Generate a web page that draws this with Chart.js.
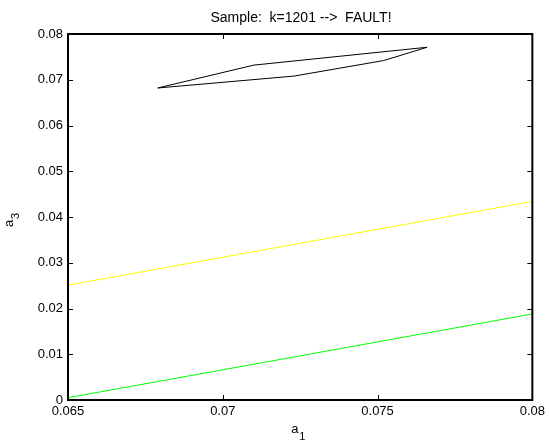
<!DOCTYPE html>
<html><head><meta charset="utf-8">
<script src="https://cdn.jsdelivr.net/npm/chart.js@4/dist/chart.umd.min.js"></script>
<style>html,body{margin:0;padding:0;background:#fff}#wrap{width:549px;height:441px;position:relative}</style>
</head><body><div id="wrap"><canvas id="c"></canvas></div>
<script>
const titleText = 'Sample:  k=1201 -->  FAULT!';
const xTicks = [0.065, 0.07, 0.075, 0.08];
const yTicks = [0, 0.01, 0.02, 0.03, 0.04, 0.05, 0.06, 0.07, 0.08];
const polyX = [0.0679, 0.0710, 0.0766, 0.0752, 0.0723, 0.0679];
const polyY = [0.0682, 0.0732, 0.0771, 0.0742, 0.0708, 0.0682];
const yellowX = [0.065, 0.08];
const yellowY = [0.0251, 0.0434];
const greenX = [0.065, 0.08];
const greenY = [0.0005, 0.0188];

const zip = (xs, ys) => xs.map((x, i) => ({x: x, y: ys[i]}));
const FONT = '"Liberation Sans", Arial, Helvetica, sans-serif';

const framePlugin = {
  id: 'frame',
  afterDraw(chart) {
    const ctx = chart.ctx, a = chart.chartArea;
    const xs = chart.scales.x, ys = chart.scales.y;
    ctx.save();
    ctx.strokeStyle = '#000';
    ctx.lineWidth = 2;
    ctx.strokeRect(a.left, a.top, a.right - a.left, a.bottom - a.top);
    ctx.lineWidth = 1;
    const tl = 5;
    ctx.beginPath();
    xs.ticks.forEach(t => {
      const px = Math.round(xs.getPixelForValue(t.value)) + 0.5;
      ctx.moveTo(px, a.bottom); ctx.lineTo(px, a.bottom - tl);
      ctx.moveTo(px, a.top); ctx.lineTo(px, a.top + tl);
    });
    ys.ticks.forEach(t => {
      const py = Math.round(ys.getPixelForValue(t.value)) + 0.5;
      ctx.moveTo(a.left, py); ctx.lineTo(a.left + tl, py);
      ctx.moveTo(a.right, py); ctx.lineTo(a.right - tl, py);
    });
    ctx.stroke();
    // title
    ctx.fillStyle = '#000';
    ctx.font = '14px ' + FONT;
    ctx.textAlign = 'center';
    ctx.textBaseline = 'alphabetic';
    ctx.fillText(titleText, 301, 21.5);
    // x label a_1
    const cx = (a.left + a.right) / 2;
    ctx.textAlign = 'left';
    ctx.font = '13px ' + FONT;
    ctx.fillText('a', cx - 9, 433);
    ctx.font = '11px ' + FONT;
    ctx.fillText('1', cx - 1, 440);
    // y label a_3
    ctx.translate(12.5, 227);
    ctx.rotate(-Math.PI / 2);
    ctx.font = '13px ' + FONT;
    ctx.fillText('a', 0, 0);
    ctx.font = '11px ' + FONT;
    ctx.fillText('3', 8, 6.5);
    ctx.restore();
  }
};

new Chart(document.getElementById('c'), {
  type: 'scatter',
  data: {
    datasets: [
      {data: zip(polyX, polyY), showLine: true, borderColor: '#000', borderWidth: 1, pointRadius: 0, fill: false, tension: 0},
      {data: zip(yellowX, yellowY), showLine: true, borderColor: '#ffff00', borderWidth: 1, pointRadius: 0, fill: false},
      {data: zip(greenX, greenY), showLine: true, borderColor: '#00ff00', borderWidth: 1, pointRadius: 0, fill: false}
    ]
  },
  options: {
    responsive: true,
    maintainAspectRatio: false,
    animation: false,
    layout: {padding: {top: 34, right: 14, left: 0, bottom: 0}},
    plugins: {legend: {display: false}, tooltip: {enabled: false}, title: {display: false}},
    scales: {
      x: {
        type: 'linear', min: 0.065, max: 0.08,
        afterBuildTicks: s => { s.ticks = xTicks.map(v => ({value: v})); },
        afterFit: s => { s.height = 41; },
        grid: {display: false, drawTicks: false},
        border: {display: false},
        ticks: {color: '#000', font: {size: 13, family: FONT}, padding: 4, maxRotation: 0, autoSkip: false,
          callback: v => String(v)}
      },
      y: {
        type: 'linear', min: 0, max: 0.08,
        afterBuildTicks: s => { s.ticks = yTicks.map(v => ({value: v})); },
        afterFit: s => { s.width = 68; },
        grid: {display: false, drawTicks: false},
        border: {display: false},
        ticks: {color: '#000', font: {size: 13, family: FONT}, padding: 5, autoSkip: false,
          callback: v => String(v)}
      }
    }
  },
  plugins: [framePlugin]
});
</script>
</body></html>
